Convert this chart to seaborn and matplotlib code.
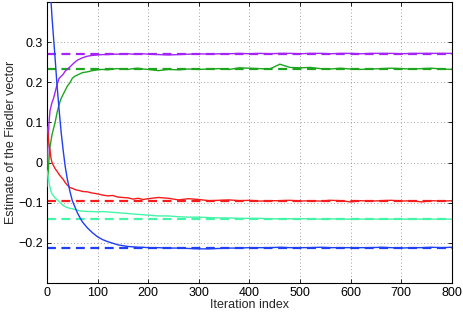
import matplotlib
matplotlib.use('Agg')
import matplotlib.pyplot as plt
import pandas as pd
import seaborn as sns

iters = [0, 2, 4, 6, 8, 10, 13, 16, 20, 24, 28, 32, 36, 40, 45, 50, 55, 60, 65, 70, 80, 90, 100,
         110, 120, 130, 140, 150, 160, 170, 180, 190, 200] + list(range(220, 801, 20))

blue = [0.55, 0.52, 0.48, 0.44, 0.40, 0.36, 0.31, 0.26, 0.19, 0.13, 0.075, 0.03, -0.01, -0.04,
        -0.07, -0.095, -0.11, -0.125, -0.137, -0.148, -0.163, -0.175, -0.185,
        -0.192, -0.197, -0.201, -0.205, -0.207, -0.209, -0.210, -0.211, -0.211, -0.212,
        -0.212, -0.213, -0.213, -0.214, -0.215, -0.215, -0.214, -0.213, -0.213, -0.212,
        -0.212, -0.212, -0.211, -0.212, -0.212, -0.212, -0.211, -0.212, -0.212, -0.212,
        -0.212, -0.212, -0.211, -0.212, -0.213, -0.212, -0.212, -0.211, -0.212, -0.211]
purple = [-0.03, 0.05, 0.10, 0.13, 0.14, 0.15, 0.16, 0.175, 0.195, 0.21, 0.215, 0.22, 0.228, 0.232,
          0.238, 0.244, 0.25, 0.255, 0.258, 0.261, 0.265, 0.267, 0.268,
          0.269, 0.269, 0.27, 0.27, 0.27, 0.271, 0.27, 0.27, 0.271, 0.27,
          0.269, 0.268, 0.269, 0.27, 0.271, 0.27, 0.271, 0.271, 0.272, 0.271,
          0.272, 0.271, 0.272, 0.272, 0.271, 0.272, 0.272, 0.271, 0.272, 0.272,
          0.271, 0.272, 0.272, 0.272, 0.271, 0.272, 0.272, 0.272, 0.272, 0.272]
green = [-0.06, -0.03, 0.01, 0.04, 0.055, 0.07, 0.085, 0.10, 0.125, 0.145, 0.16, 0.17, 0.18, 0.19,
         0.198, 0.21, 0.215, 0.218, 0.221, 0.224, 0.226, 0.229, 0.231,
         0.232, 0.231, 0.233, 0.234, 0.233, 0.232, 0.234, 0.235, 0.233, 0.232,
         0.229, 0.232, 0.231, 0.233, 0.232, 0.233, 0.234, 0.232, 0.236, 0.235,
         0.234, 0.233, 0.245, 0.237, 0.236, 0.237, 0.234, 0.233, 0.235, 0.233,
         0.232, 0.233, 0.234, 0.235, 0.234, 0.233, 0.234, 0.235, 0.233, 0.232]
red = [0.09, 0.07, 0.045, 0.03, 0.01, 0.0, -0.008, -0.015, -0.022, -0.03, -0.036, -0.042, -0.05, -0.056,
       -0.062, -0.064, -0.067, -0.069, -0.07, -0.072, -0.073, -0.076, -0.078,
       -0.081, -0.083, -0.082, -0.086, -0.087, -0.088, -0.091, -0.089, -0.092, -0.09,
       -0.087, -0.089, -0.093, -0.09, -0.092, -0.095, -0.094, -0.093, -0.095, -0.094,
       -0.096, -0.095, -0.095, -0.094, -0.096, -0.095, -0.096, -0.094, -0.095, -0.098,
       -0.095, -0.096, -0.095, -0.094, -0.096, -0.095, -0.098, -0.095, -0.096, -0.095]
cyan = [-0.02, -0.035, -0.05, -0.062, -0.072, -0.078, -0.083, -0.088, -0.092, -0.097, -0.102, -0.107,
        -0.11, -0.112, -0.114, -0.115, -0.117, -0.119, -0.12, -0.121, -0.122, -0.122, -0.123,
        -0.122, -0.123, -0.124, -0.125, -0.126, -0.127, -0.128, -0.129, -0.13, -0.131,
        -0.133, -0.133, -0.135, -0.136, -0.136, -0.137, -0.138, -0.138, -0.139, -0.139,
        -0.139, -0.14, -0.14, -0.14, -0.14, -0.14, -0.141, -0.14, -0.141, -0.141,
        -0.141, -0.141, -0.141, -0.141, -0.141, -0.141, -0.141, -0.141, -0.141, -0.141]

# True Fiedler vector entries (dashed reference lines)
targets = {'purple': 0.27, 'green': 0.232, 'red': -0.095, 'cyan': -0.14, 'blue': -0.212}

colors = {'purple': '#a424f5', 'green': '#1ea51e', 'red': '#f51c1c',
          'cyan': '#44f5a8', 'blue': '#1f3ff2'}

ytick_vals = [-0.2, -0.1, 0, 0.1, 0.2, 0.3]
ytick_labels = ['\u22120.2', '\u22120.1', '0', '0.1', '0.2', '0.3']
xtick_vals = [0, 100, 200, 300, 400, 500, 600, 700, 800]

series = {'purple': purple, 'green': green, 'red': red, 'cyan': cyan, 'blue': blue}
df = pd.concat([pd.DataFrame({'iteration': iters, 'value': v, 'entry': k})
                for k, v in series.items()], ignore_index=True)

sns.set_style('ticks')
plt.rcParams['font.family'] = ['Liberation Sans', 'DejaVu Sans']
plt.rcParams['font.size'] = 9

fig = plt.figure(figsize=(4.63, 3.15), dpi=100)
ax = fig.add_axes([0.1015, 0.1016, 0.8745, 0.8921])

for k, t in targets.items():
    ax.axhline(t, color=colors[k], lw=1.6, ls=(0, (4, 2.5)), zorder=2)

sns.lineplot(data=df, x='iteration', y='value', hue='entry', palette=colors,
             lw=1.0, ax=ax, legend=False, zorder=3)

ax.set_xlim(0, 800)
ax.set_ylim(-0.3, 0.4)
ax.set_xticks(xtick_vals)
ax.set_yticks(ytick_vals)
ax.set_yticklabels(ytick_labels)
ax.set_xlabel('Iteration index', fontsize=9, labelpad=0)
ax.set_ylabel('Estimate of the Fiedler vector', fontsize=9, labelpad=1)
ax.grid(True, ls=(0, (1, 3)), color='0.5', lw=0.6)
ax.tick_params(direction='in', top=True, right=True, length=3, width=0.6,
               labelsize=9, pad=3, colors='black')
for s in ax.spines.values():
    s.set_linewidth(0.8)
    s.set_color('black')

fig.savefig('out.png', dpi=100)
